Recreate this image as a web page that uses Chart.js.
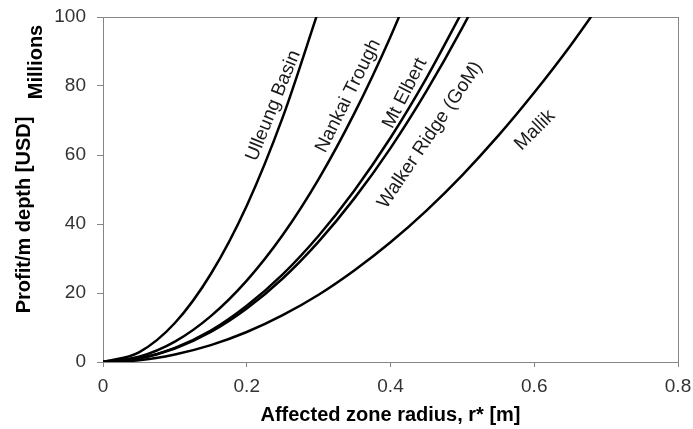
<!DOCTYPE html>
<html>
<head>
<meta charset="utf-8">
<script src="https://cdn.jsdelivr.net/npm/chart.js@4.4.1/dist/chart.umd.min.js"></script>
<style>
  html, body { margin: 0; padding: 0; background: #fff; }
  #wrap { width: 693px; height: 429px; }
</style>
</head>
<body>
<div id="wrap"><canvas id="profitChart"></canvas></div>
<script>
// radius values shared by all curves [m]
const radius = [0, 0.05, 0.1, 0.15, 0.2, 0.25, 0.3, 0.35, 0.4, 0.45, 0.5, 0.55, 0.6, 0.65, 0.7];

// profit per m depth, millions USD
const ulleung = [0, 2.8, 11.3, 25.5, 45.3, 70.9, 102.0];
const nankai = [0, 1.5, 5.9, 13.3, 23.6, 36.8, 53.0, 72.2, 94.3, 119.3];
const mtElbert = [0, 1.0, 4.1, 9.1, 16.3, 25.4, 36.6, 49.8, 65.0, 82.3, 101.6];
const walker = [0, 1.0, 3.9, 8.7, 15.5, 24.2, 34.9, 47.5, 62.0, 78.5, 96.9, 117.2];
const mallik = [0, 0.5, 2.2, 4.9, 8.7, 13.6, 19.5, 26.6, 34.7, 43.9, 54.2, 65.6, 78.1, 91.6, 106.3];

const seriesNames = ['Ulleung Basin', 'Nankai Trough', 'Mt Elbert', 'Walker Ridge (GoM)', 'Mallik'];
const seriesValues = [ulleung, nankai, mtElbert, walker, mallik];

// curve labels: [text, radius, profit, angle in degrees]
const curveLabels = [
    ['Ulleung Basin', 0.237, 74.3, 68],
    ['Nankai Trough', 0.341, 77.1, 63.5],
    ['Mt Elbert', 0.420, 77.9, 63],
    ['Walker Ridge (GoM)', 0.455, 65.8, 56],
    ['Mallik', 0.601, 67.2, 45]
];

const xTicks = [0, 0.2, 0.4, 0.6, 0.8];
const yTicks = [0, 20, 40, 60, 80, 100];

const xTitle = 'Affected zone radius, r* [m]';
const yTitle = 'Profit/m depth [USD]';
const yUnit = 'Millions';

const FONT = '"Liberation Sans", Arial, sans-serif';
const axisGray = '#868686';

// Plot box border + rotated labels along curves + y titles
const decorPlugin = {
    id: 'decor',
    beforeDatasetsDraw(chart) {
        const a = chart.chartArea;
        const ctx = chart.ctx;
        ctx.save();
        ctx.strokeStyle = axisGray;
        ctx.lineWidth = 1;
        ctx.strokeRect(Math.round(a.left) + 0.5, Math.round(a.top) + 0.5,
            Math.round(a.right - a.left), Math.round(a.bottom - a.top));
        ctx.restore();
    },
    afterDraw(chart) {
        const ctx = chart.ctx;
        const xs = chart.scales.x;
        const ys = chart.scales.y;
        ctx.save();
        ctx.fillStyle = '#1a1a1a';
        ctx.font = '19px ' + FONT;
        ctx.textAlign = 'center';
        ctx.textBaseline = 'middle';
        curveLabels.forEach(([text, r, p, ang]) => {
            ctx.save();
            ctx.translate(xs.getPixelForValue(r), ys.getPixelForValue(p));
            ctx.rotate(-ang * Math.PI / 180);
            ctx.fillText(text, 0, 0);
            ctx.restore();
        });

        ctx.fillStyle = '#000';
        ctx.font = 'bold 20px ' + FONT;
        ctx.save();
        ctx.translate(24, 215);
        ctx.rotate(-Math.PI / 2);
        ctx.fillText(yTitle, 0, 0);
        ctx.restore();

        ctx.save();
        ctx.translate(36, 62);
        ctx.rotate(-Math.PI / 2);
        ctx.fillText(yUnit, 0, 0);
        ctx.restore();
        ctx.restore();
    }
};

// keep tick labels from pushing the plot area inwards
function noEdgePadding(s) {
    s.paddingLeft = 0;
    s.paddingRight = 0;
    s.paddingTop = 0;
    s.paddingBottom = 0;
}

const ctx = document.getElementById('profitChart').getContext('2d');

const profitChart = new Chart(ctx, {
    type: 'line',
    data: {
        datasets: seriesValues.map((vals, i) => ({
            label: seriesNames[i],
            data: vals.map((v, j) => ({ x: radius[j], y: v })),
            borderColor: '#000',
            borderWidth: 2.5,
            pointRadius: 0,
            cubicInterpolationMode: 'monotone',
            fill: false,
            clip: 0
        }))
    },
    options: {
        responsive: true,
        maintainAspectRatio: false,
        animation: false,
        layout: {
            padding: { left: 0, right: 15, top: 17, bottom: 0 }
        },
        scales: {
            x: {
                type: 'linear',
                min: 0,
                max: 0.8,
                afterBuildTicks: (s) => { s.ticks = xTicks.map(v => ({ value: v })); },
                afterFit: (s) => { s.height = 67; noEdgePadding(s); },
                grid: {
                    drawOnChartArea: false,
                    drawTicks: true,
                    tickLength: 5,
                    color: axisGray
                },
                border: { color: axisGray },
                ticks: {
                    color: '#333',
                    padding: 8,
                    font: { family: FONT, size: 19 }
                },
                title: {
                    display: true,
                    text: xTitle,
                    color: '#000',
                    padding: { top: 0, bottom: 2 },
                    font: { family: FONT, size: 20, weight: 'bold' }
                }
            },
            y: {
                type: 'linear',
                min: 0,
                max: 100,
                afterBuildTicks: (s) => { s.ticks = yTicks.map(v => ({ value: v })); },
                afterFit: (s) => { s.width = 103; noEdgePadding(s); },
                grid: {
                    drawOnChartArea: false,
                    drawTicks: true,
                    tickLength: 6,
                    color: axisGray
                },
                border: { color: axisGray },
                ticks: {
                    color: '#333',
                    padding: 11,
                    font: { family: FONT, size: 19 }
                }
            }
        },
        plugins: {
            legend: { display: false },
            tooltip: { enabled: false }
        }
    },
    plugins: [decorPlugin]
});
</script>
</body>
</html>
